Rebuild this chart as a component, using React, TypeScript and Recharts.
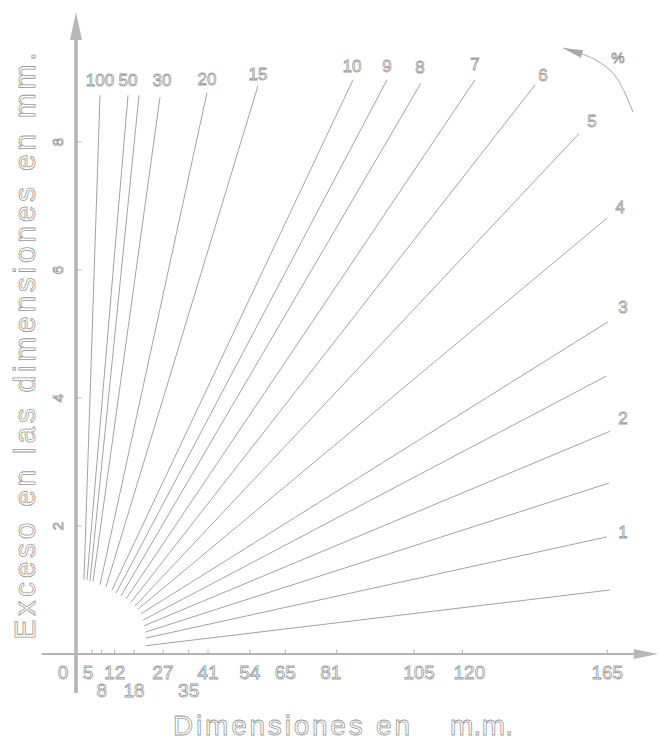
import React from 'react';
import { LineChart, Line, XAxis, YAxis, ReferenceLine, LabelList, Label } from 'recharts';

// percent lines (mm units)
const pctNames = ['100', '50', '40', '30', '20', '15', '10', '9', '8', '7', '6', '5', '4', '3', '2.5', '2', '1.5', '1', '0.5'];
const pctLabels = ['100', '50', '', '30', '20', '15', '10', '9', '8', '7', '6', '5', '4', '3', '', '2', '', '1', ''];
const startX = [2.48, 3.42, 4.35, 5.28, 7.45, 9.32, 11.18, 12.42, 13.98, 15.53, 17.08, 18.32, 19.25, 20.19, 20.81, 21.12, 21.43, 21.74, 21.74];
const startY = [1.16, 1.16, 1.14, 1.13, 1.08, 1.05, 1.0, 0.95, 0.91, 0.86, 0.81, 0.75, 0.7, 0.63, 0.53, 0.44, 0.34, 0.25, 0.13];
const endX = [7.45, 16.15, 19.57, 26.09, 40.68, 56.52, 86.02, 96.58, 107.14, 123.91, 142.55, 156.21, 164.91, 165.22, 164.6, 165.84, 165.53, 164.91, 165.84];
const endY = [8.73, 8.73, 8.73, 8.7, 8.77, 8.88, 8.97, 8.97, 8.92, 8.97, 8.89, 8.13, 6.81, 5.19, 4.34, 3.48, 2.67, 1.83, 1.0];

const xTicks = [0, 5, 8, 12, 18, 27, 35, 41, 54, 65, 81, 105, 120, 165];
const xTicksLowRow = [8, 18, 35];
const yTicks = [2, 4, 6, 8];

// the "%" arrow arc, top right
const arcX = [151.24, 158.07, 164.29, 168.94, 172.98];
const arcY = [9.47, 9.36, 9.19, 8.92, 8.47];

// label nudges (px) - layout only
const labelOffset: Record<string, [number, number]> = {
  '100': [0, -15], '50': [0, -15], '30': [2, -17], '20': [0, -13], '15': [0, -11],
  '10': [-1, -13], '9': [0, -13], '8': [-1, -16], '7': [0, -15], '6': [8, -10],
  '5': [13, -12], '4': [13, -11], '3': [15, -14], '2': [13, -13], '1': [16, -4],
};
const xTickNudge: Record<number, number> = { 0: -13, 5: -4, 81: -6, 105: 5, 120: 7 };

const GREY = '#a3a3a3';
const FONT = '"Liberation Sans Narrow", "Liberation Sans", Arial, sans-serif';
const outline = { fill: '#fff', stroke: '#9a9a9a', strokeWidth: 0.8, fontFamily: FONT };

const lines = pctNames.map((name, i) => ({
  name,
  label: pctLabels[i],
  data: [
    { x: startX[i], y: startY[i] },
    { x: endX[i], y: endY[i] },
  ],
}));
const arcData = arcX.map((x, i) => ({ x, y: arcY[i] }));

const ArrowAxis = (props: any) => {
  const { x1, y1, x2, y2, width, len, hw } = props;
  const ang = Math.atan2(y2 - y1, x2 - x1);
  const bx = x2 - len * Math.cos(ang);
  const by = y2 - len * Math.sin(ang);
  const px = -Math.sin(ang) * hw;
  const py = Math.cos(ang) * hw;
  return (
    <g>
      <line x1={x1} y1={y1} x2={bx} y2={by} stroke="#b3b3b3" strokeWidth={width} />
      <polygon points={`${x2},${y2} ${bx + px},${by + py} ${bx - px},${by - py}`} fill="#b8b8b8" />
    </g>
  );
};

const XTick = ({ x, y, payload }: any) => {
  const v = payload.value;
  const low = xTicksLowRow.includes(v);
  return (
    <text x={x + (xTickNudge[v] || 0)} y={y + (low ? 43 : 25)} textAnchor="middle" fontSize={19} style={outline}>
      {v}
    </text>
  );
};

const YTick = ({ y, payload }: any) => {
  const cx = 57;
  return (
    <text
      x={cx}
      y={y}
      transform={`rotate(-90 ${cx} ${y})`}
      textAnchor="middle"
      dominantBaseline="central"
      fontSize={15}
      style={outline}
    >
      {payload.value}
    </text>
  );
};

const pctLabel = (name: string, text: string) => (props: any) => {
  if (props.index !== 1 || !text) {
    return null;
  }
  const [dx, dy] = labelOffset[name] || [0, -14];
  return (
    <text
      x={props.x + dx}
      y={props.y + dy}
      textAnchor="middle"
      dominantBaseline="central"
      fontSize={17}
      style={outline}
    >
      {text}
    </text>
  );
};

const ArcArrowDot = (props: any) => {
  const { cx, cy, index } = props;
  if (index !== 0) {
    return null;
  }
  // head points up-left along the arc
  const ang = Math.atan2(-7, -22);
  const len = 20;
  const hw = 4;
  const bx = cx - len * Math.cos(ang);
  const by = cy - len * Math.sin(ang);
  const px = -Math.sin(ang) * hw;
  const py = Math.cos(ang) * hw;
  return (
    <polygon key="arrow" points={`${cx},${cy} ${bx + px},${by + py} ${bx - px},${by - py}`} fill="#a8a8a8" />
  );
};

const XTitle = () => (
  <g>
    <text x={173} y={735} fontSize={28} textLength={237} lengthAdjust="spacing" style={outline}>
      Dimensiones en
    </text>
    <text x={450} y={735} fontSize={28} textLength={63} lengthAdjust="spacing" style={outline}>
      m.m.
    </text>
  </g>
);

const YTitle = () => (
  <text
    x={35}
    y={346}
    transform="rotate(-90 35 346)"
    textAnchor="middle"
    fontSize={30}
    textLength={587}
    lengthAdjust="spacing"
    style={outline}
  >
    Exceso en las dimensiones en mm.
  </text>
);

export default function App() {
  return (
    <div style={{ position: 'absolute', left: 0, top: 0, background: '#fff' }}>
      <LineChart width={660} height={748} margin={{ top: 1.2, right: 1.2, bottom: 0, left: 38.58 }}>
        <XAxis
          type="number"
          dataKey="x"
          domain={[-11, 181]}
          allowDataOverflow
          ticks={xTicks}
          interval={0}
          axisLine={false}
          tickLine={false}
          tickSize={0}
          tickMargin={0}
          height={94}
          tick={<XTick />}
        >
          <Label content={<XTitle />} />
        </XAxis>
        <YAxis
          type="number"
          dataKey="y"
          domain={[0, 10.2]}
          allowDataOverflow
          ticks={yTicks}
          interval={0}
          axisLine={false}
          tickLine={false}
          tickSize={0}
          width={2}
          tick={<YTick />}
        >
          <Label content={<YTitle />} />
        </YAxis>

        {lines.map(l => (
          <Line
            key={l.name}
            data={l.data}
            dataKey="y"
            type="linear"
            stroke={GREY}
            strokeWidth={1}
            dot={false}
            activeDot={false}
            isAnimationActive={false}
          >
            <LabelList dataKey="y" content={pctLabel(l.name, l.label)} />
          </Line>
        ))}

        <Line
          data={arcData}
          dataKey="y"
          type="natural"
          stroke="#a8a8a8"
          strokeWidth={1}
          dot={<ArcArrowDot />}
          activeDot={false}
          isAnimationActive={false}
          label={(p: any) =>
            p.index === 2 ? (
              <text key="pct" x={p.x + 13} y={p.y - 8} textAnchor="middle" dominantBaseline="central" fontSize={15} style={outline}>
                %
              </text>
            ) : null
          }
        />

        {xTicks.filter(v => v > 0).map(v => (
          <ReferenceLine key={`xt${v}`} segment={[{ x: v, y: 0 }, { x: v, y: 0.07 }]} stroke="#b0b0b0" strokeWidth={1} ifOverflow="visible" />
        ))}
        {yTicks.map(v => (
          <ReferenceLine key={`yt${v}`} segment={[{ x: 0, y: v }, { x: 1.6, y: v }]} stroke="#b0b0b0" strokeWidth={1} ifOverflow="visible" />
        ))}

        <ReferenceLine
          segment={[{ x: -10.6, y: 0 }, { x: 180.7, y: 0 }]}
          ifOverflow="visible"
          shape={(p: any) => <ArrowAxis {...p} width={2} len={24} hw={5} />}
        />
        <ReferenceLine
          segment={[{ x: 0, y: -0.61 }, { x: 0, y: 10.03 }]}
          ifOverflow="visible"
          shape={(p: any) => <ArrowAxis {...p} width={3.5} len={28} hw={6} />}
        />
      </LineChart>
    </div>
  );
}
